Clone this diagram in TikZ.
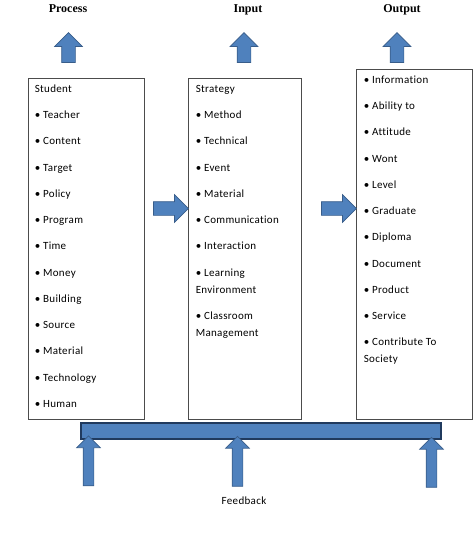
\documentclass[tikz,border=0pt]{standalone}
\usepackage{fontspec}
\usepackage{tikz}
\usetikzlibrary{positioning,shapes,shapes.arrows}
\setmainfont{Liberation Serif}
\newfontfamily\listfont[LetterSpace=3,Ligatures=NoCommon]{Carlito}
\definecolor{arrowblue}{HTML}{4F81BD}
\definecolor{arrowedge}{HTML}{385D8A}
\definecolor{baredge}{HTML}{203A5E}

\begin{document}
\begin{tikzpicture}[x=1pt,y=-1pt,
                    box/.style={draw=black!70,line width=0.8pt,minimum width=116pt,inner sep=0pt},
                    items/.style={font=\listfont\fontsize{11pt}{17pt}\selectfont,align=left,inner sep=0pt,anchor=north west},
                    title/.style={font=\bfseries\fontsize{12pt}{14pt}\selectfont,anchor=base},
                    blockarrow/.style={single arrow,fill=arrowblue,draw=arrowedge,line width=0.7pt,
                                       single arrow tip angle=90,single arrow head indent=0pt,
                                       inner xsep=0pt,inner ysep=6.5pt,single arrow head extend=7pt,
                                       minimum height=31pt},
                    backarrow/.style={blockarrow,inner ysep=5pt,single arrow head extend=6.5pt,
                                      minimum height=50pt,rotate=90}]
  \useasboundingbox (0,0) rectangle (474,538);

  % headings
  \node[title] (tp) at (68,12.5)  {Process};
  \node[title] (ti) at (248,12.5) {Input};
  \node[title] (to) at (402,12.5) {Output};

  % the three boxes
  \node[box,minimum height=341pt]                    (P) at (86,248.5)  {};
  \node[box,minimum height=341pt,minimum width=113pt] (I) at (244.5,248.5) {};
  \node[box,minimum height=350pt]                    (O) at (414,244)   {};

  \node[items] (Plist) at ([xshift=7pt,yshift=-2.6pt]P.north west)
    {\strut Student\\[9.25pt] •\ Teacher\\[9.25pt] •\ Content\\[9.25pt] •\ Target\\[9.25pt]
     •\ Policy\\[9.25pt] •\ Program\\[9.25pt] •\ Time\\[9.25pt] •\ Money\\[9.25pt]
     •\ Building\\[9.25pt] •\ Source\\[9.25pt] •\ Material\\[9.25pt] •\ Technology\\[9.25pt]
     •\ Human};
  \node[items] (Ilist) at ([xshift=8pt,yshift=-2.6pt]I.north west)
    {\strut Strategy\\[9.25pt] •\ Method\\[9.25pt] •\ Technical\\[9.25pt] •\ Event\\[9.25pt]
     •\ Material\\[9.25pt] •\ Communication\\[9.25pt] •\ Interaction\\[9.25pt]
     •\ Learning\\ Environment\\[9.25pt] •\ Classroom\\ Management};
  \node[items] (Olist) at ([xshift=8pt,yshift=-2.6pt]O.north west)
    {\strut •\ Information\\[9.25pt] •\ Ability to\\[9.25pt] •\ Attitude\\[9.25pt] •\ Wont\\[9.25pt]
     •\ Level\\[9.25pt] •\ Graduate\\[9.25pt] •\ Diploma\\[9.25pt] •\ Document\\[9.25pt]
     •\ Product\\[9.25pt] •\ Service\\[9.25pt] •\ Contribute To\\ Society};

  % block arrows
  \node[blockarrow,rotate=90,minimum height=30pt] (up1) at (68.5,51) {};
  \node[blockarrow,rotate=90,minimum height=30pt] (up2) at (244,51)  {};
  \node[blockarrow,rotate=90,minimum height=30pt] (up3) at (397,51)  {};
  \node[blockarrow,minimum height=35pt] (PI) at (167.5,208.5) {};
  \node[blockarrow,minimum height=35pt] (IO) at (335.5,208.5) {};

  % feedback
  \node[draw=baredge,fill=arrowblue,line width=1.2pt,minimum width=360pt,minimum height=16pt,
        inner sep=0pt] (bar) at (261,431) {};
  \node[backarrow] (fb1) at (88.5,463.5) {};
  \node[backarrow] (fb2) at (237.5,464)  {};
  \node[backarrow] (fb3) at (431.5,465)  {};
  \node[font=\listfont\fontsize{11pt}{13pt}\selectfont,anchor=base] (fbt) at (244,504) {Feedback};
\end{tikzpicture}
\end{document}
